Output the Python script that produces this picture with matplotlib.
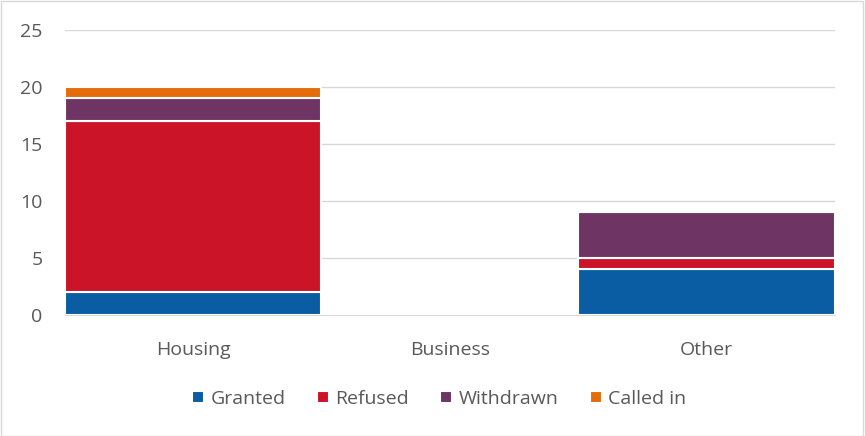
import numpy as np
import matplotlib.pyplot as plt
from matplotlib.patches import Rectangle

plt.rcParams['font.family'] = ['Open Sans', 'DejaVu Sans']

categories = ['Housing', 'Business', 'Other']
granted = [2, 0, 4]
refused = [15, 0, 1]
withdrawn = [2, 0, 4]
called_in = [1, 0, 0]

series = [('Granted', granted, '#0A5CA3'),
          ('Refused', refused, '#CC1429'),
          ('Withdrawn', withdrawn, '#6E3564'),
          ('Called in', called_in, '#E46C0A')]

fig = plt.figure(figsize=(8.65, 4.36), dpi=100)
ax = fig.add_axes([0.075, 0.2775, 0.89, 0.6535])

x = np.arange(len(categories))
bottom = np.zeros(len(categories))
for name, vals, col in series:
    vals = np.array(vals, dtype=float)
    ax.bar(x, vals, width=1.0, bottom=bottom, color=col, edgecolor='white',
           linewidth=1.5, label=name, zorder=3)
    bottom += vals

ax.set_xlim(-0.5, 2.5)
ax.set_ylim(0, 25)
ax.set_yticks([0, 5, 10, 15, 20, 25])
ax.set_xticks(x)
ax.set_xticklabels(categories)
ax.yaxis.grid(True, color='#D9D9D9', linewidth=1, zorder=0)
for s in ['top', 'right', 'left']:
    ax.spines[s].set_visible(False)
ax.spines['bottom'].set_color('#D9D9D9')
ax.tick_params(axis='both', length=0, labelsize=14, colors='#595959')
ax.tick_params(axis='x', pad=19)
ax.tick_params(axis='y', pad=16)

leg = fig.legend(loc='center', bbox_to_anchor=(0.508, 0.085), ncol=4, frameon=False,
                 fontsize=14, handlelength=0.6, handleheight=0.6,
                 handletextpad=0.35, columnspacing=1.6)
for t in leg.get_texts():
    t.set_color('#595959')

fig.patches.append(Rectangle((0.001, 0.001), 0.997, 0.997, transform=fig.transFigure,
                             fill=False, edgecolor='#D9D9D9', linewidth=1))

fig.savefig('out.png', dpi=100)
